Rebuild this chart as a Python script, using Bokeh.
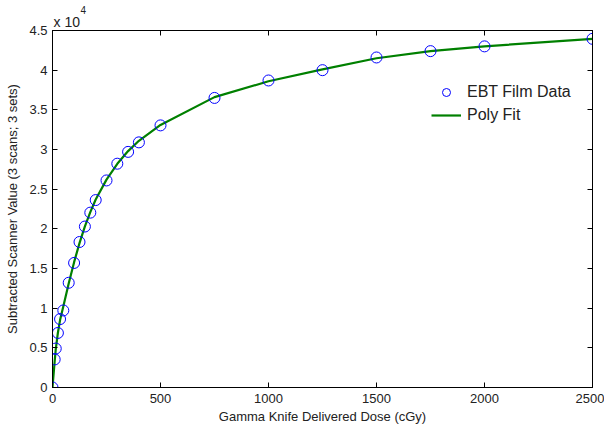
from bokeh.plotting import figure
from bokeh.models import Range1d, LinearAxis, FixedTicker, Title, Legend, LegendItem
from bokeh.embed import file_html
from bokeh.resources import INLINE

# Data
dose = [0, 10, 15, 25, 35, 50, 75, 100, 125, 150, 175, 200, 250, 300, 350,
        400, 500, 750, 1000, 1250, 1500, 1750, 2000, 2500]
signal = [0, 3540, 4910, 6875, 8625, 9710, 13200, 15700, 18340, 20290, 22040,
          23625, 26100, 28210, 29700, 30900, 33040, 36500, 38700, 40000, 41600,
          42400, 43000, 43950]

fit_dose = [0, 10, 15, 25, 35, 50, 75, 100, 125, 150, 175, 200, 250, 300, 350,
            400, 500, 750, 1000, 1250, 1500, 1750, 2000, 2500]
fit_signal = [0, 3300, 4800, 6900, 8500, 10200, 13100, 15800, 18200, 20300, 22100,
              23700, 26200, 28200, 29800, 31100, 33100, 36600, 38600, 40100, 41500,
              42400, 43000, 43950]

x_ticks = [0, 500, 1000, 1500, 2000, 2500]
y_ticks = [0, 5000, 10000, 15000, 20000, 25000, 30000, 35000, 40000, 45000]
y_tick_labels = ["0", "0.5", "1", "1.5", "2", "2.5", "3", "3.5", "4", "4.5"]

FONT = "Liberation Sans"
TXT = "#222222"

p = figure(width=604, height=426, output_backend="svg", toolbar_location=None,
           x_range=Range1d(0, 2500), y_range=Range1d(0, 45000),
           min_border_left=52, min_border_right=12, min_border_top=30,
           min_border_bottom=38)
p.grid.visible = False
p.outline_line_color = "black"
p.outline_line_width = 1
p.background_fill_color = "white"
p.border_fill_color = "white"

line_r = p.line(fit_dose, fit_signal, line_color="#008000", line_width=2.2)
pts_r = p.scatter(dose, signal, marker="circle", size=11, fill_color=None,
                  line_color="#0000ff", line_width=1)

for ax in (p.xaxis[0], p.yaxis[0]):
    ax.major_tick_in = 5
    ax.major_tick_out = 0
    ax.minor_tick_line_color = None
    ax.axis_line_color = "black"
    ax.major_tick_line_color = "black"
    ax.major_label_text_font = FONT
    ax.major_label_text_font_size = "13px"
    ax.major_label_text_color = TXT
    ax.axis_label_text_font = FONT
    ax.axis_label_text_font_size = "13px"
    ax.axis_label_text_font_style = "normal"
    ax.axis_label_text_color = TXT

p.xaxis[0].ticker = FixedTicker(ticks=x_ticks)
p.xaxis[0].axis_label = "Gamma Knife Delivered Dose (cGy)"
p.xaxis[0].major_label_standoff = 6
p.xaxis[0].axis_label_standoff = 3

p.yaxis[0].ticker = FixedTicker(ticks=y_ticks)
p.yaxis[0].major_label_overrides = {t: s for t, s in zip(y_ticks, y_tick_labels)}
p.yaxis[0].axis_label = "Subtracted Scanner Value (3 scans; 3 sets)"
p.yaxis[0].major_label_standoff = 5
p.yaxis[0].axis_label_standoff = 6

top = LinearAxis(ticker=FixedTicker(ticks=x_ticks), major_tick_in=5, major_tick_out=0,
                 minor_tick_line_color=None, major_label_standoff=0,
                 major_label_overrides={t: "" for t in x_ticks})
right = LinearAxis(ticker=FixedTicker(ticks=y_ticks), major_tick_in=5, major_tick_out=0,
                   minor_tick_line_color=None, major_label_standoff=0,
                   major_label_overrides={t: "" for t in y_ticks})
p.add_layout(top, "above")
p.add_layout(right, "right")

# "x 10^4" multiplier: base text and raised exponent stacked as two titles
exp_base = Title(text="x 10", align="left", offset=1, standoff=2,
                 text_font=FONT, text_font_size="14px", text_font_style="normal",
                 text_color=TXT)
exp_power = Title(text="4", align="left", offset=28, standoff=-6,
                  text_font=FONT, text_font_size="10px", text_font_style="normal",
                  text_color=TXT)
p.add_layout(exp_base, "above")
p.add_layout(exp_power, "above")

legend = Legend(items=[LegendItem(label="EBT Film Data", renderers=[pts_r]),
                       LegendItem(label="Poly Fit", renderers=[line_r])],
                location=(379, 262))
legend.label_text_font = FONT
legend.label_text_font_size = "16px"
legend.label_text_color = TXT
legend.glyph_width = 30
legend.label_standoff = 6
legend.padding = 0
legend.margin = 0
legend.spacing = 3
legend.border_line_color = None
legend.background_fill_alpha = 0
p.add_layout(legend, "center")

open("out.html", "w").write(file_html(p, INLINE))
